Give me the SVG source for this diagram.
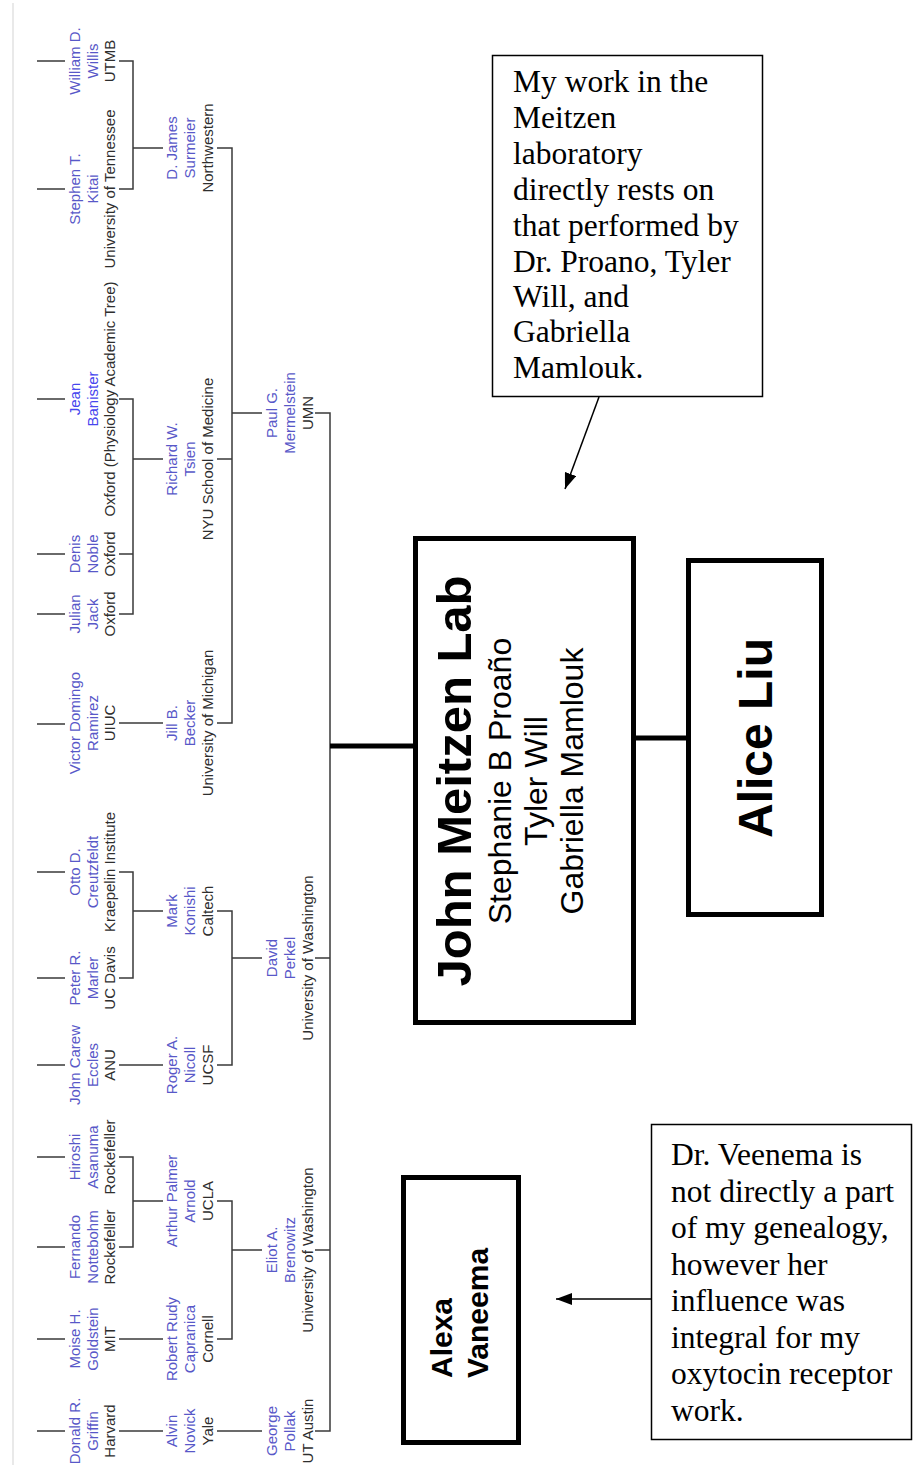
<svg xmlns="http://www.w3.org/2000/svg" width="916" height="1468" viewBox="0 0 916 1468">
<style>
text{font-family:"Liberation Sans",Arial,sans-serif}
.nm{font-size:15px;fill:#5858c8;text-anchor:middle}
.nb{font-size:15px;fill:#4646ee;text-anchor:middle}
.in{font-size:15px;fill:#2e2e2e;text-anchor:middle}
.tl{fill:none;stroke:#3a3a3a;stroke-width:1.5}
.bx{fill:#fff;stroke:#000;stroke-width:5}
.nt{fill:#fff;stroke:#000;stroke-width:1.5}
.tk{stroke:#000;stroke-width:5}
.ar{stroke:#000;stroke-width:1.5;marker-end:url(#ah)}
.sf{font-family:"Liberation Serif","Times New Roman",serif;font-size:31.5px;fill:#000}
.big{font-weight:bold;fill:#000}
</style>
<defs>
<marker id="ah" viewBox="0 0 10 10" refX="10" refY="5" markerWidth="16" markerHeight="12" markerUnits="userSpaceOnUse" orient="auto" preserveAspectRatio="none">
<path d="M0,0 L10,5 L0,10 z" fill="#000"/>
</marker>
</defs>
<rect width="916" height="1468" fill="#fff"/>
<line x1="13" y1="3" x2="13" y2="1465" stroke="#e2e2e2" stroke-width="1.5"/>

<g id="connectors">
<path class="tl" d="M37,61H65 M37,189H65 M37,399H65 M37,554H65 M37,614H65 M37,724H65 M37,872H65 M37,978H65 M37,1065H65 M37,1157H65 M37,1247H65 M37,1339H65 M37,1431H65"/>
<path class="tl" d="M119,61H133V189H119 M133,148H163"/>
<path class="tl" d="M119,399H133V614H119 M119,554H133 M133,459H163"/>
<path class="tl" d="M119,723H163"/>
<path class="tl" d="M119,872H133V978H119 M133,911H163"/>
<path class="tl" d="M119,1065H163"/>
<path class="tl" d="M119,1157H133V1247H119 M133,1201H163"/>
<path class="tl" d="M119,1339H163"/>
<path class="tl" d="M119,1431H163"/>
<path class="tl" d="M217,148H232V723H217 M217,459H232 M232,413H262"/>
<path class="tl" d="M217,911H232V1065H217 M232,958H262"/>
<path class="tl" d="M217,1201H232V1339H217 M232,1250H262"/>
<path class="tl" d="M217,1431H262"/>
<path class="tl" d="M315,413H330V1431H315 M315,958H330 M315,1250H330"/>
<line class="tk" x1="330" y1="746" x2="415" y2="746"/>
<line class="tk" x1="634" y1="738" x2="688" y2="738"/>
<line class="ar" x1="599" y1="397" x2="565" y2="489"/>
<line class="ar" x1="651" y1="1299" x2="556" y2="1299"/>
</g>

<g id="willis" transform="translate(0,61) rotate(-90)"><text class="nm" y="80">William D.</text><text class="nm" y="97.5">Willis</text><text class="in" y="115">UTMB</text></g>
<g id="kitai" transform="translate(0,189) rotate(-90)"><text class="nm" y="80">Stephen T.</text><text class="nm" y="97.5">Kitai</text><text class="in" y="115">University of Tennessee</text></g>
<g id="banister" transform="translate(0,399) rotate(-90)"><text class="nb" y="80">Jean</text><text class="nb" y="97.5">Banister</text><text class="in" y="115">Oxford (Physiology Academic Tree)</text></g>
<g id="noble" transform="translate(0,554) rotate(-90)"><text class="nm" y="80">Denis</text><text class="nm" y="97.5">Noble</text><text class="in" y="115">Oxford</text></g>
<g id="jack" transform="translate(0,614) rotate(-90)"><text class="nm" y="80">Julian</text><text class="nm" y="97.5">Jack</text><text class="in" y="115">Oxford</text></g>
<g id="ramirez" transform="translate(0,723) rotate(-90)"><text class="nm" y="80">Victor Domingo</text><text class="nm" y="97.5">Ramirez</text><text class="in" y="115">UIUC</text></g>
<g id="creutzfeldt" transform="translate(0,872) rotate(-90)"><text class="nm" y="80">Otto D.</text><text class="nm" y="97.5">Creutzfeldt</text><text class="in" y="115">Kraepelin Institute</text></g>
<g id="marler" transform="translate(0,978) rotate(-90)"><text class="nm" y="80">Peter R.</text><text class="nm" y="97.5">Marler</text><text class="in" y="115">UC Davis</text></g>
<g id="eccles" transform="translate(0,1065) rotate(-90)"><text class="nm" y="80">John Carew</text><text class="nm" y="97.5">Eccles</text><text class="in" y="115">ANU</text></g>
<g id="asanuma" transform="translate(0,1157) rotate(-90)"><text class="nm" y="80">Hiroshi</text><text class="nm" y="97.5">Asanuma</text><text class="in" y="115">Rockefeller</text></g>
<g id="nottebohm" transform="translate(0,1247) rotate(-90)"><text class="nm" y="80">Fernando</text><text class="nm" y="97.5">Nottebohm</text><text class="in" y="115">Rockefeller</text></g>
<g id="goldstein" transform="translate(0,1339) rotate(-90)"><text class="nm" y="80">Moise H.</text><text class="nm" y="97.5">Goldstein</text><text class="in" y="115">MIT</text></g>
<g id="griffin" transform="translate(0,1431) rotate(-90)"><text class="nm" y="80">Donald R.</text><text class="nm" y="97.5">Griffin</text><text class="in" y="115">Harvard</text></g>

<g id="surmeier" transform="translate(0,148) rotate(-90)"><text class="nm" y="177">D. James</text><text class="nm" y="195">Surmeier</text><text class="in" y="213">Northwestern</text></g>
<g id="tsien" transform="translate(0,459) rotate(-90)"><text class="nm" y="177">Richard W.</text><text class="nm" y="195">Tsien</text><text class="in" y="213">NYU School of Medicine</text></g>
<g id="becker" transform="translate(0,723) rotate(-90)"><text class="nm" y="177">Jill B.</text><text class="nm" y="195">Becker</text><text class="in" y="213">University of Michigan</text></g>
<g id="konishi" transform="translate(0,911) rotate(-90)"><text class="nm" y="177">Mark</text><text class="nm" y="195">Konishi</text><text class="in" y="213">Caltech</text></g>
<g id="nicoll" transform="translate(0,1065) rotate(-90)"><text class="nm" y="177">Roger A.</text><text class="nm" y="195">Nicoll</text><text class="in" y="213">UCSF</text></g>
<g id="arnold" transform="translate(0,1201) rotate(-90)"><text class="nm" y="177">Arthur Palmer</text><text class="nm" y="195">Arnold</text><text class="in" y="213">UCLA</text></g>
<g id="capranica" transform="translate(0,1339) rotate(-90)"><text class="nm" y="177">Robert Rudy</text><text class="nm" y="195">Capranica</text><text class="in" y="213">Cornell</text></g>
<g id="novick" transform="translate(0,1431) rotate(-90)"><text class="nm" y="177">Alvin</text><text class="nm" y="195">Novick</text><text class="in" y="213">Yale</text></g>

<g id="mermelstein" transform="translate(0,413) rotate(-90)"><text class="nm" y="277">Paul G.</text><text class="nm" y="295">Mermelstein</text><text class="in" y="313">UMN</text></g>
<g id="perkel" transform="translate(0,958) rotate(-90)"><text class="nm" y="277">David</text><text class="nm" y="295">Perkel</text><text class="in" y="313">University of Washington</text></g>
<g id="brenowitz" transform="translate(0,1250) rotate(-90)"><text class="nm" y="277">Eliot A.</text><text class="nm" y="295">Brenowitz</text><text class="in" y="313">University of Washington</text></g>
<g id="pollak" transform="translate(0,1431) rotate(-90)"><text class="nm" y="277">George</text><text class="nm" y="295">Pollak</text><text class="in" y="313">UT Austin</text></g>

<g id="meitzen">
<rect class="bx" x="415.5" y="538.5" width="218" height="484"/>
<g transform="translate(0,781) rotate(-90)">
<text class="big" y="471" font-size="49" text-anchor="middle">John Meitzen Lab</text>
<text y="511" font-size="32" text-anchor="middle">Stephanie B Proaño</text>
<text y="547" font-size="32" text-anchor="middle">Tyler Will</text>
<text y="583" font-size="32" text-anchor="middle">Gabriella Mamlouk</text>
</g>
</g>
<g id="liu">
<rect class="bx" x="688.5" y="560.5" width="133" height="354"/>
<text class="big" transform="translate(0,738) rotate(-90)" y="772" font-size="48" text-anchor="middle">Alice Liu</text>
</g>
<g id="vaneema">
<rect class="bx" x="403.5" y="1177.5" width="115" height="265"/>
<g transform="translate(0,1378) rotate(-90)">
<text class="big" y="452" font-size="30">Alexa</text>
<text class="big" y="488" font-size="30">Vaneema</text>
</g>
</g>

<g id="note-meitzen">
<rect class="nt" x="492.5" y="55.5" width="270" height="341"/>
<text class="sf" x="513" y="92">My work in the</text>
<text class="sf" x="513" y="128">Meitzen</text>
<text class="sf" x="513" y="164">laboratory</text>
<text class="sf" x="513" y="200">directly rests on</text>
<text class="sf" x="513" y="236">that performed by</text>
<text class="sf" x="513" y="272">Dr. Proano, Tyler</text>
<text class="sf" x="513" y="307">Will, and</text>
<text class="sf" x="513" y="342">Gabriella</text>
<text class="sf" x="513" y="378">Mamlouk.</text>
</g>
<g id="note-veenema">
<rect class="nt" x="651.5" y="1124.5" width="260" height="315"/>
<text class="sf" x="671" y="1165" font-size="31">Dr. Veenema is</text>
<text class="sf" x="671" y="1201.5" font-size="31">not directly a part</text>
<text class="sf" x="671" y="1238" font-size="31">of my genealogy,</text>
<text class="sf" x="671" y="1274.5" font-size="31">however her</text>
<text class="sf" x="671" y="1311" font-size="31">influence was</text>
<text class="sf" x="671" y="1347.5" font-size="31">integral for my</text>
<text class="sf" x="671" y="1384" font-size="31">oxytocin receptor</text>
<text class="sf" x="671" y="1420.5" font-size="31">work.</text>
</g>
</svg>
